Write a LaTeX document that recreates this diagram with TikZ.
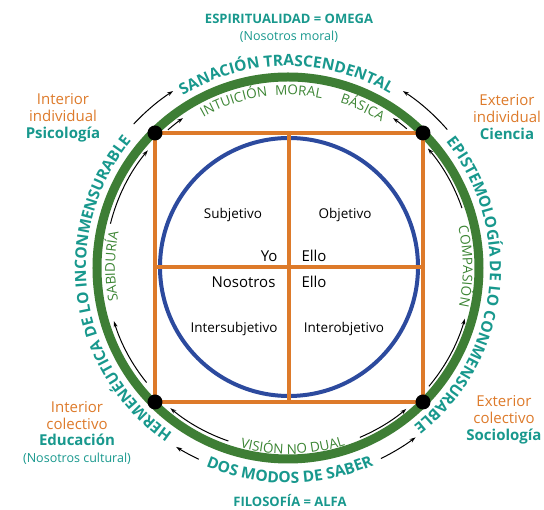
\documentclass[tikz,border=0pt]{standalone}
\usepackage{fontspec}
\setmainfont{Open Sans}
\usetikzlibrary{decorations.text,arrows.meta}
\definecolor{tealc}{HTML}{18988D}
\definecolor{orangec}{HTML}{DD7A2A}
\definecolor{greenc}{HTML}{3E7E35}
\definecolor{greentxt}{HTML}{3C8534}
\definecolor{bluec}{HTML}{2C4A9E}
\newcommand\outerfont{\fontsize{15.5}{18}\selectfont\bfseries\color{tealc}}
\newcommand\innerfont{\fontsize{13.5}{16}\selectfont\color{greentxt}}
% clockwise text, tops outward: radius, centre angle, half span, format, text
\newcommand\cwtext[5]{%
  \path[decorate,decoration={text along path,text={|#4|#5},
     text align=center}]
     ({#2+#3}:#1) arc[start angle={#2+#3},end angle={#2-#3},radius=#1];}
% counter-clockwise text, tops inward
\newcommand\ccwtext[5]{%
  \path[decorate,decoration={text along path,text={|#4|#5},
     text align=center}]
     ({#2-#3}:#1) arc[start angle={#2-#3},end angle={#2+#3},radius=#1];}
\tikzset{
  arr/.style={black,line width=1pt,-{Stealth[length=6pt,width=4pt]}},
  ringline/.style={greenc,line width=9pt},
  orangeline/.style={orangec,line width=4pt},
  blueline/.style={bluec,line width=4pt},
  dotmark/.style={black},
  quadtxt/.style={font=\fontsize{13.5}{16}\selectfont},
  axistxt/.style={font=\fontsize{15}{18}\selectfont},
  cornerlbl/.style={align=center,font=\fontsize{15}{16.7}\selectfont},
}
\begin{document}
\begin{tikzpicture}[x=1pt,y=1pt]
\useasboundingbox (-288,-242) rectangle (256,268);
% rings and square
\draw[ringline] (0,0) circle (191);
\draw[blueline] (1,1) circle (129);
\coordinate (tl) at (-133,135);
\coordinate (tr) at (135,135);
\coordinate (bl) at (-133,-134);
\coordinate (br) at (135,-134);
\coordinate (tm) at (1,135);
\coordinate (bm) at (1,-134);
\coordinate (lm) at (-133,1);
\coordinate (rm) at (135,1);
\draw[orangeline] (tl) rectangle (br);
\draw[orangeline] (tm) -- (bm);
\draw[orangeline] (lm) -- (rm);
\foreach \c in {tl,tr,bl,br} \fill[dotmark] (\c) circle (7.5);
% quadrant texts
\node[quadtxt] (subj) at (-55,53) {Subjetivo};
\node[quadtxt] (obj) at (57,53) {Objetivo};
\node[quadtxt] (isubj) at (-54,-61) {Intersubjetivo};
\node[quadtxt] (iobj) at (56,-61) {Interobjetivo};
\node[axistxt,anchor=base east] (yo) at (-7,6) {Yo};
\node[axistxt,anchor=base west] (ello1) at (10,6) {Ello};
\node[axistxt,anchor=base east] (noso) at (-9,-20) {Nosotros};
\node[axistxt,anchor=base west] (ello2) at (10,-20) {Ello};
% outer curved texts
\cwtext{202}{90.5}{40}{\outerfont}{SANACIÓN TRASCENDENTAL}
\cwtext{202}{-6.5}{60}{\outerfont}{EPISTEMOLOGÍA DE LO CONMENSURABLE}
\cwtext{202}{188}{60}{\outerfont}{HERMENÉUTICA DE LO INCONMENSURABLE}
\ccwtext{215}{270.5}{40}{\outerfont}{DOS MODOS DE SABER}
% inner curved texts
\cwtext{173}{108}{15}{\innerfont}{INTUICIÓN}
\cwtext{173}{86.5}{12}{\innerfont}{MORAL}
\cwtext{173}{65}{12}{\innerfont}{BÁSICA}
\cwtext{173}{179.5}{20}{\innerfont}{SABIDURÍA}
\cwtext{175}{0.5}{20}{\innerfont}{COMPASIÓN}
\ccwtext{186}{271.5}{30}{\innerfont}{VISIÓN NO DUAL}
% outer arrows
\draw[arr] (137:211) arc[start angle=137,end angle=123,radius=211];
\draw[arr] (41:211) arc[start angle=41,end angle=57,radius=211];
\draw[arr] (245:211) arc[start angle=245,end angle=238,radius=211];
\draw[arr] (-64:212) arc[start angle=-64,end angle=-53,radius=212];
% inner arrows
\draw[arr] (131:183) arc[start angle=131,end angle=125,radius=183];
\draw[arr] (49.5:183) arc[start angle=49.5,end angle=55,radius=183];
\draw[arr] (219:182) arc[start angle=219,end angle=197,radius=182];
\draw[arr] (166:183) arc[start angle=166,end angle=140,radius=183];
\draw[arr] (19:184) arc[start angle=19,end angle=40.5,radius=184];
\draw[arr] (-40:184) arc[start angle=-40,end angle=-16,radius=184];
\draw[arr] (251:183) arc[start angle=251,end angle=230,radius=183];
\draw[arr] (-67:184) arc[start angle=-67,end angle=-50,radius=184];
% corner labels
\node[cornerlbl] (psi) at (-225,150) {\textcolor{orangec}{Interior}\\\textcolor{orangec}{individual}\\\textcolor{tealc}{\bfseries Psicología}};
\node[cornerlbl] (cie) at (219,151) {\textcolor{orangec}{Exterior}\\\textcolor{orangec}{individual}\\\textcolor{tealc}{\bfseries Ciencia}};
\node[cornerlbl] (edu) at (-211,-165) {\textcolor{orangec}{Interior}\\\textcolor{orangec}{colectivo}\\\textcolor{tealc}{\bfseries Educación}\\\textcolor{tealc}{\fontsize{12.5}{15}\selectfont (Nosotros cultural)}};
\node[cornerlbl] (soc) at (216,-152) {\textcolor{orangec}{Exterior}\\\textcolor{orangec}{colectivo}\\\textcolor{tealc}{\bfseries Sociología}};
% top and bottom titles
\node[tealc,font=\fontsize{13}{15}\selectfont\bfseries] (omega) at (1,249) {ESPIRITUALIDAD = OMEGA};
\node[tealc,font=\fontsize{12.5}{15}\selectfont] (nmoral) at (1,231) {(Nosotros moral)};
\node[tealc,font=\fontsize{13}{15}\selectfont\bfseries] (alfa) at (2,-233) {FILOSOFÍA = ALFA};
\end{tikzpicture}
\end{document}
